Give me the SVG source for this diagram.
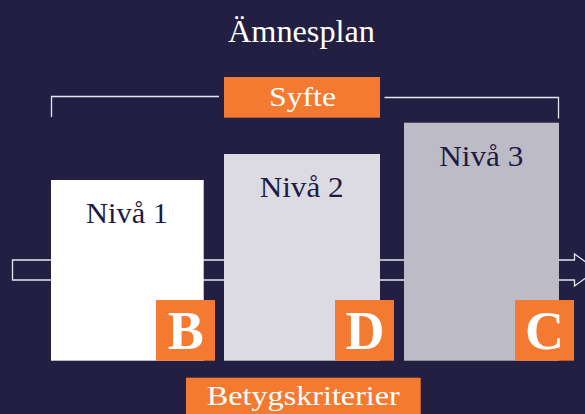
<svg xmlns="http://www.w3.org/2000/svg" width="585" height="414" viewBox="0 0 585 414">
<style>
.serif{font-family:"Liberation Serif","Times New Roman",serif;}
.lvl{font-size:30px;fill:#1e1a45;text-anchor:middle;}
.lab{font-size:28px;fill:#ffffff;text-anchor:middle;}
.badge{fill:#f47a32;}
.letter{font-size:54px;font-weight:bold;fill:#ffffff;text-anchor:middle;}
.line{fill:none;stroke:#e6e6ee;stroke-width:1.3;}
</style>
<rect x="0" y="0" width="585" height="414" fill="#221f42"/>
<text id="title" class="serif" x="301.5" y="42" font-size="32" fill="#ffffff" text-anchor="middle" textLength="147" lengthAdjust="spacingAndGlyphs">Ämnesplan</text>
<g id="connectors">
<path class="line" d="M12.5,260 H574.5 V254 L597,270 L574.5,286 V280 H12.5 Z"/>
<polyline class="line" points="51.5,117 51.5,96.5 219,96.5"/>
<polyline class="line" points="384.5,97.5 558.5,97.5 558.5,118.5"/>
</g>
<g id="syfte">
<rect class="badge" x="224" y="77" width="156" height="40.7"/>
<text class="serif lab" x="302.5" y="106" textLength="67" lengthAdjust="spacingAndGlyphs">Syfte</text>
</g>
<g id="niva1">
<rect x="51" y="180" width="152.7" height="180.7" fill="#ffffff"/>
<text class="serif lvl" x="127" y="223.3" textLength="82" lengthAdjust="spacingAndGlyphs">Nivå 1</text>
</g>
<g id="niva2">
<rect x="224" y="154" width="156" height="206.7" fill="#dcdbe1"/>
<text class="serif lvl" x="301.7" y="196.7" textLength="84" lengthAdjust="spacingAndGlyphs">Nivå 2</text>
</g>
<g id="niva3">
<rect x="404" y="122.7" width="155" height="238" fill="#bdbcc6"/>
<text class="serif lvl" x="481.3" y="166" textLength="84" lengthAdjust="spacingAndGlyphs">Nivå 3</text>
</g>
<g id="badgeB">
<rect class="badge" x="156" y="300" width="59" height="60.7"/>
<text class="serif letter" x="185.8" y="349.3">B</text>
</g>
<g id="badgeD">
<rect class="badge" x="335" y="300" width="59" height="60.7"/>
<text class="serif letter" x="365" y="349.3">D</text>
</g>
<g id="badgeC">
<rect class="badge" x="515" y="300" width="59" height="60.7"/>
<text class="serif letter" x="544.5" y="349.3">C</text>
</g>
<g id="betyg">
<rect class="badge" x="186" y="377.7" width="234.7" height="40"/>
<text class="serif lab" x="303.3" y="405" font-size="30" textLength="193" lengthAdjust="spacingAndGlyphs">Betygskriterier</text>
</g>
</svg>
